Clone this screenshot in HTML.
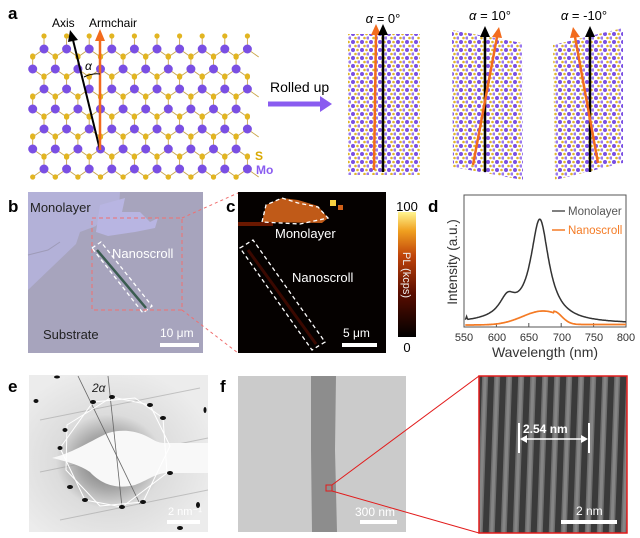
<!DOCTYPE html>
<html><head><meta charset="utf-8"><style>
html,body{margin:0;padding:0;background:#fff;}
svg{display:block;font-family:"Liberation Sans",Arial,sans-serif;}
</style></head><body>
<svg id="s" width="640" height="538" viewBox="0 0 640 538" xmlns="http://www.w3.org/2000/svg">
<defs>
<pattern id="lat" width="9" height="8" patternUnits="userSpaceOnUse">
<rect width="9" height="8" fill="#fff"/>
<circle cx="2" cy="2" r="2" fill="#7a4fe3"/>
<circle cx="6.5" cy="2" r="1.3" fill="#e0b52a"/>
<circle cx="4.5" cy="6" r="1.3" fill="#e0b52a"/>
<circle cx="8" cy="6" r="1.6" fill="#9a78ee"/>
</pattern>
<linearGradient id="cb" x1="0" y1="1" x2="0" y2="0">
<stop offset="0" stop-color="#000"/><stop offset="0.35" stop-color="#5a0d00"/><stop offset="0.65" stop-color="#c0440a"/><stop offset="0.85" stop-color="#f0a020"/><stop offset="1" stop-color="#fff590"/>
</linearGradient>
<radialGradient id="eg" cx="0.45" cy="0.55" r="0.6">
<stop offset="0" stop-color="#6a6a6a"/><stop offset="0.3" stop-color="#a8a8a8"/><stop offset="0.5" stop-color="#dcdcdc"/><stop offset="1" stop-color="#ececec"/>
</radialGradient>
<pattern id="stripes" width="12" height="10" patternUnits="userSpaceOnUse" patternTransform="rotate(2)">
<rect width="12" height="10" fill="#3a3a3a"/><rect x="3" width="6" height="10" fill="#6e6e6e"/><rect x="4.5" width="3" height="10" fill="#858585"/>
</pattern>
</defs>
<g id="lattice"></g>
<text x="8" y="19" font-size="17" font-weight="bold">a</text>
<text x="52" y="27" font-size="12">Axis</text>
<text x="89" y="27" font-size="12">Armchair</text>
<line x1="100" y1="150" x2="73" y2="40" stroke="#000" stroke-width="2"/>
<polygon points="70,30 68,42 78,40" fill="#000"/>
<line x1="100" y1="150" x2="100" y2="40" stroke="#f26b1d" stroke-width="2.5"/>
<polygon points="100,29 95,41 105,41" fill="#f26b1d"/>
<path d="M84,77 Q92,73 100,74" fill="none" stroke="#000" stroke-width="1"/>
<text x="85" y="70" font-size="12" font-style="italic">α</text>
<text x="255" y="160" font-size="12" font-weight="bold" fill="#d9a800">S</text>
<text x="256" y="174" font-size="12" font-weight="bold" fill="#8a5cf0">Mo</text>
<text x="270" y="92" font-size="14">Rolled up</text>
<line x1="268" y1="104" x2="322" y2="104" stroke="#8a5cf0" stroke-width="5"/>
<polygon points="320,96 332,104 320,112" fill="#8a5cf0"/>
<polygon points="348,34 420,34 420,175 348,175" fill="url(#lat)"/>
<polygon points="452,30 522,43 523,180 453,167" fill="url(#lat)"/>
<polygon points="553,45 623,28 623,163 555,180" fill="url(#lat)"/>
<line x1="374" y1="170" x2="376" y2="34" stroke="#f26b1d" stroke-width="2.5"/><polygon points="376,24 371,35 381,35" fill="#f26b1d"/>
<line x1="383" y1="172" x2="383" y2="34" stroke="#000" stroke-width="2.5"/><polygon points="383,24 378,35 388,35" fill="#000"/>
<line x1="485" y1="172" x2="485" y2="36" stroke="#000" stroke-width="2.5"/><polygon points="485,26 480,37 490,37" fill="#000"/>
<line x1="473" y1="165" x2="497" y2="37" stroke="#f26b1d" stroke-width="2.5"/><polygon points="499,27 492,37 502,38" fill="#f26b1d"/>
<line x1="590" y1="172" x2="590" y2="36" stroke="#000" stroke-width="2.5"/><polygon points="590,26 585,37 595,37" fill="#000"/>
<line x1="598" y1="163" x2="575" y2="37" stroke="#f26b1d" stroke-width="2.5"/><polygon points="573,27 570,38 580,37" fill="#f26b1d"/>
<text x="383" y="23" font-size="13" text-anchor="middle"><tspan font-style="italic">α</tspan> = 0°</text>
<text x="490" y="20" font-size="13" text-anchor="middle"><tspan font-style="italic">α</tspan> = 10°</text>
<text x="584" y="20" font-size="13" text-anchor="middle"><tspan font-style="italic">α</tspan> = -10°</text>

<text x="8" y="212" font-size="17" font-weight="bold">b</text>
<rect x="28" y="192" width="175" height="161" fill="#a7a4bd"/>
<polygon points="28,192 120,192 119,206 104,214 96,226 80,232 76,244 28,290" fill="#b3b1d8"/>
<polygon points="100,205 125,198 122,212 140,212 150,222 158,218 155,228 135,232 108,236 96,232" fill="#b8b5e2"/>
<path d="M28,255 L48,250 L60,242" stroke="#9e9bb8" fill="none"/>
<line x1="97" y1="250" x2="146" y2="308" stroke="#3a5c50" stroke-width="2.5"/>
<polygon points="92,248 101,242 152,306 143,313" fill="none" stroke="#fff" stroke-width="1.3" stroke-dasharray="4,3"/>
<rect x="92" y="218" width="90" height="92" fill="none" stroke="#f07070" stroke-width="1" stroke-dasharray="4,3"/>
<line x1="182" y1="218" x2="238" y2="193" stroke="#f07070" stroke-width="1" stroke-dasharray="3,3"/>
<line x1="182" y1="310" x2="238" y2="353" stroke="#f07070" stroke-width="1" stroke-dasharray="3,3"/>
<text x="30" y="212" font-size="13" fill="#222">Monolayer</text>
<text x="112" y="258" font-size="13" fill="#fff">Nanoscroll</text>
<text x="43" y="339" font-size="13" fill="#222">Substrate</text>
<text x="160" y="337" font-size="12" fill="#fff">10 μm</text>
<rect x="160" y="343" width="39" height="4" fill="#fff"/>

<text x="226" y="212" font-size="17" font-weight="bold">c</text>
<rect x="238" y="192" width="148" height="161" fill="#050100"/>
<path d="M262,222 L266,205 L282,198 L298,200 L318,206 L328,218 L322,223 Z" fill="#c05a18"/>
<rect x="330" y="200" width="6" height="6" fill="#f8d040"/><rect x="338" y="205" width="5" height="5" fill="#d06018"/>
<rect x="238" y="222" width="35" height="4" fill="#6a1800"/>
<path d="M262,222 L266,205 L282,198 L298,203 L318,207 L328,218 L300,224 Z" fill="none" stroke="#fff" stroke-width="1.3" stroke-dasharray="4,3"/>
<polygon points="240,248 253,240 325,342 312,350" fill="none" stroke="#fff" stroke-width="1.3" stroke-dasharray="4,3"/>
<line x1="248" y1="250" x2="316" y2="344" stroke="#3a0800" stroke-width="3"/>
<text x="275" y="238" font-size="13" fill="#fff">Monolayer</text>
<text x="292" y="282" font-size="13" fill="#fff">Nanoscroll</text>
<text x="343" y="337" font-size="12" fill="#fff">5 μm</text>
<rect x="342" y="343" width="35" height="4" fill="#fff"/>
<rect x="398" y="212" width="18" height="125" fill="url(#cb)"/>
<text x="407" y="211" font-size="13" text-anchor="middle">100</text>
<text x="407" y="352" font-size="13" text-anchor="middle">0</text>
<text x="0" y="0" font-size="11" fill="#eee" transform="translate(403,252) rotate(90)">PL  (kcps)</text>

<text x="428" y="212" font-size="17" font-weight="bold">d</text>
<rect x="464" y="195" width="162" height="132" fill="none" stroke="#555" stroke-width="1"/>
<g id="ticks"></g>
<path id="mono" fill="none" stroke="#333" stroke-width="1.5"/>
<path id="nano" fill="none" stroke="#f47b25" stroke-width="1.7"/>
<line x1="552" y1="211" x2="565" y2="211" stroke="#555" stroke-width="1.5"/>
<text x="568" y="215" font-size="11.5" fill="#555">Monolayer</text>
<line x1="552" y1="230" x2="565" y2="230" stroke="#f47b25" stroke-width="1.5"/>
<text x="568" y="234" font-size="11.5" fill="#f47b25">Nanoscroll</text>
<text x="464" y="341" font-size="11" text-anchor="middle" fill="#333">550</text>
<text x="497" y="341" font-size="11" text-anchor="middle" fill="#333">600</text>
<text x="529" y="341" font-size="11" text-anchor="middle" fill="#333">650</text>
<text x="562" y="341" font-size="11" text-anchor="middle" fill="#333">700</text>
<text x="594" y="341" font-size="11" text-anchor="middle" fill="#333">750</text>
<text x="626" y="341" font-size="11" text-anchor="middle" fill="#333">800</text>
<text x="545" y="357" font-size="14" text-anchor="middle" fill="#333">Wavelength (nm)</text>
<text x="0" y="0" font-size="13.5" text-anchor="middle" fill="#333" transform="translate(457,262) rotate(-90)">Intensity (a.u.)</text>

<text x="8" y="392" font-size="17" font-weight="bold">e</text>
<rect x="29" y="375" width="179" height="157" fill="url(#eg)"/>
<g stroke="#999" stroke-width="1" opacity="0.5">
<line x1="40" y1="420" x2="200" y2="388"/><line x1="40" y1="472" x2="208" y2="438"/><line x1="60" y1="520" x2="208" y2="490"/>
</g>
<path d="M52,458 C75,452 92,440 108,433 C125,428 140,432 150,438 C157,442 160,443 165,443 L208,443 L208,473 L165,473 C155,474 148,480 135,485 C115,490 100,483 90,472 C80,465 65,461 52,458 Z" fill="#f8f8f8"/>
<line x1="78" y1="376" x2="140" y2="504" stroke="#666" stroke-width="0.8"/>
<line x1="108" y1="376" x2="122" y2="507" stroke="#666" stroke-width="0.8"/>
<polygon points="112,397 150,405 170,446 143,502 100,506 66,470 67,425" fill="none" stroke="#fff" stroke-width="1"/>
<polygon points="93,402 135,398 163,418 167,473 122,507 85,500 60,448" fill="none" stroke="#fff" stroke-width="1"/>
<g fill="#111">
<ellipse cx="112" cy="397" rx="3" ry="2"/><ellipse cx="93" cy="402" rx="3" ry="2"/><ellipse cx="150" cy="405" rx="3" ry="2"/><ellipse cx="163" cy="418" rx="3" ry="2"/><ellipse cx="65" cy="430" rx="2.5" ry="2"/><ellipse cx="60" cy="448" rx="2.5" ry="2"/><ellipse cx="70" cy="487" rx="3" ry="2"/><ellipse cx="85" cy="500" rx="3" ry="2"/><ellipse cx="122" cy="507" rx="3" ry="2"/><ellipse cx="143" cy="502" rx="3" ry="2"/><ellipse cx="170" cy="473" rx="3" ry="2"/><ellipse cx="36" cy="401" rx="2.5" ry="2"/><ellipse cx="57" cy="377" rx="3" ry="1.5"/><ellipse cx="205" cy="410" rx="1.5" ry="3"/><ellipse cx="198" cy="505" rx="2" ry="3"/><ellipse cx="180" cy="528" rx="3" ry="2"/>
</g>
<text x="92" y="392" font-size="12" font-style="italic" fill="#222">2α</text>
<text x="168" y="515" font-size="11" fill="#fff">2 nm⁻¹</text>
<rect x="167" y="520" width="33" height="4" fill="#fff"/>

<text x="220" y="392" font-size="17" font-weight="bold">f</text>
<rect x="238" y="376" width="168" height="156" fill="#cbcbcb"/>
<path d="M311,376 L336,376 L335,450 L337,532 L312,532 L311,450 Z" fill="#8d8d8d"/>
<rect x="326" y="485" width="6" height="6" fill="none" stroke="#e21b1b" stroke-width="1"/>
<line x1="332" y1="485" x2="479" y2="376" stroke="#e21b1b" stroke-width="1"/>
<line x1="332" y1="491" x2="479" y2="533" stroke="#e21b1b" stroke-width="1"/>
<text x="355" y="516" font-size="12" fill="#fff">300 nm</text>
<rect x="360" y="520" width="37" height="4" fill="#fff"/>
<rect x="479" y="376" width="148" height="157" fill="url(#stripes)" stroke="#e21b1b" stroke-width="1.5"/>
<text x="523" y="433" font-size="12" font-weight="bold" fill="#fff">2.54 nm</text>
<line x1="519" y1="423" x2="519" y2="453" stroke="#fff" stroke-width="2"/>
<line x1="589" y1="423" x2="589" y2="453" stroke="#fff" stroke-width="2"/>
<line x1="523" y1="439" x2="585" y2="439" stroke="#fff" stroke-width="1.5"/>
<polygon points="520,439 527,435 527,443" fill="#fff"/><polygon points="588,439 581,435 581,443" fill="#fff"/>
<text x="576" y="515" font-size="12" fill="#fff">2 nm</text>
<rect x="561" y="520" width="56" height="4" fill="#fff"/>
</svg>
<script>
var NS="http://www.w3.org/2000/svg";
function el(p,t,a){var e=document.createElementNS(NS,t);for(var k in a)e.setAttribute(k,a[k]);p.appendChild(e);return e;}
var g=document.getElementById("lattice");
var bonds=[],mo=[],s=[];
for(var k=0;k<7;k++){var y=49+20*k;var x0=44-11.3*(k%2);
 for(var x=x0;x<=250;x+=22.6){
  if(x<30)continue;
  mo.push([x,y]);
  s.push([x,y-13]);bonds.push([x,y,x,y-13]);
  if(x-11.3>=30){bonds.push([x,y,x-11.3,y+8]);}
  bonds.push([x,y,x+11.3,y+8]);
  if(x-11.3>=30)s.push([x-11.3,y+8]);
  if(x+11.3<=252)s.push([x+11.3,y+8]);
 }}
bonds.forEach(function(b){el(g,"line",{x1:b[0],y1:b[1],x2:b[2],y2:b[3],stroke:"#c9a548","stroke-width":0.9});});
s.forEach(function(p){el(g,"circle",{cx:p[0],cy:p[1],r:2.6,fill:"#e2b521"});});
mo.forEach(function(p){el(g,"circle",{cx:p[0],cy:p[1],r:4.5,fill:"#7a4fe3"});});
function X(l){return 464+(l-550)*0.648;}
var m="",n="";
for(var l=552;l<=800;l+=1){
 var A=100/(1+Math.pow((l-667)/17,2))+18/(1+Math.pow((l-617)/15,2))+4/(1+Math.pow((l-640)/60,2));
 var ym=324-A; if(l<556)ym-=3*Math.exp(-Math.pow(l-554,2));
 var B=14*Math.exp(-Math.pow((l-672)/45,2)); if(l>688)B=14*Math.exp(-Math.pow((l-688)/18,2))*0.95+0.5;
 var yn=325-B;
 m+=(l==552?"M":"L")+X(l).toFixed(1)+","+ym.toFixed(1);
 n+=(l==552?"M":"L")+X(l).toFixed(1)+","+yn.toFixed(1);
}
document.getElementById("mono").setAttribute("d",m);
document.getElementById("nano").setAttribute("d",n);
var t=document.getElementById("ticks");
[550,600,650,700,750,800].forEach(function(l){el(t,"line",{x1:X(l),y1:327,x2:X(l),y2:323,stroke:"#555"});});
</script>
</body></html>
